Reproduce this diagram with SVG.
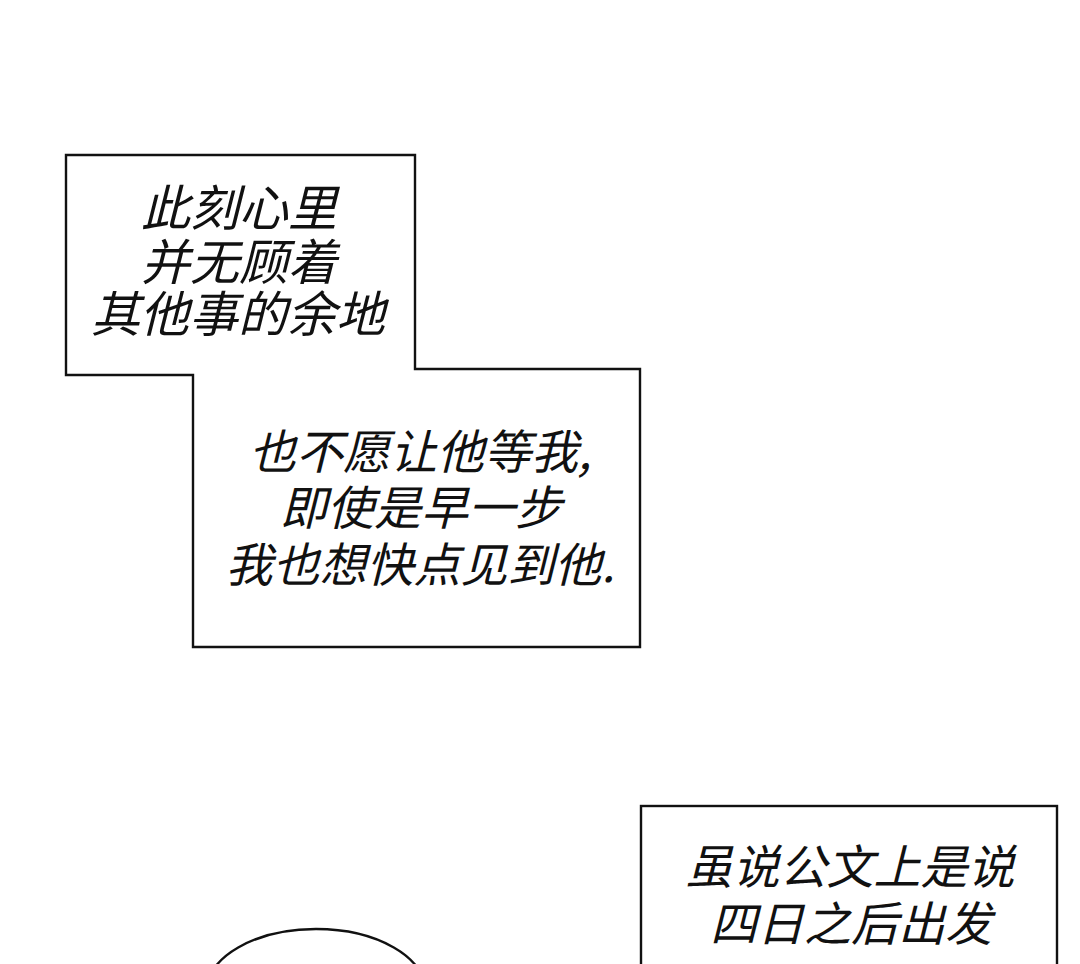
<svg xmlns="http://www.w3.org/2000/svg" width="1080" height="964" viewBox="0 0 1080 964">
<style>
.box{fill:#fff;stroke:#111;stroke-width:2.4}
.t{font-family:"Noto Sans CJK SC","Noto Sans",sans-serif;font-style:italic;font-weight:400;fill:#111;text-anchor:middle}
.a{font-size:49px}
.b{font-size:47px}
</style>
<rect width="1080" height="964" fill="#fff"/>
<g id="caption1">
<path class="box" d="M66,155 H415 V369 H640 V647 H193 V375 H66 Z"/>
<text class="t a" x="239" y="226">此刻心里</text>
<text class="t a" x="239" y="280">并无顾着</text>
<text class="t a" x="238" y="332">其他事的余地</text>
<text class="t b" x="420" y="469">也不愿让他等我,</text>
<text class="t b" x="421" y="525">即使是早一步</text>
<text class="t b" x="420" y="582">我也想快点见到他.</text>
</g>
<g id="caption2">
<rect class="box" x="641" y="806" width="416" height="180"/>
<text class="t b" x="850" y="884">虽说公文上是说</text>
<text class="t b" x="851" y="941">四日之后出发</text>
</g>
<g id="bubble">
<ellipse class="box" cx="316" cy="992" rx="110" ry="63"/>
</g>
<g id="connectors"></g>
</svg>
